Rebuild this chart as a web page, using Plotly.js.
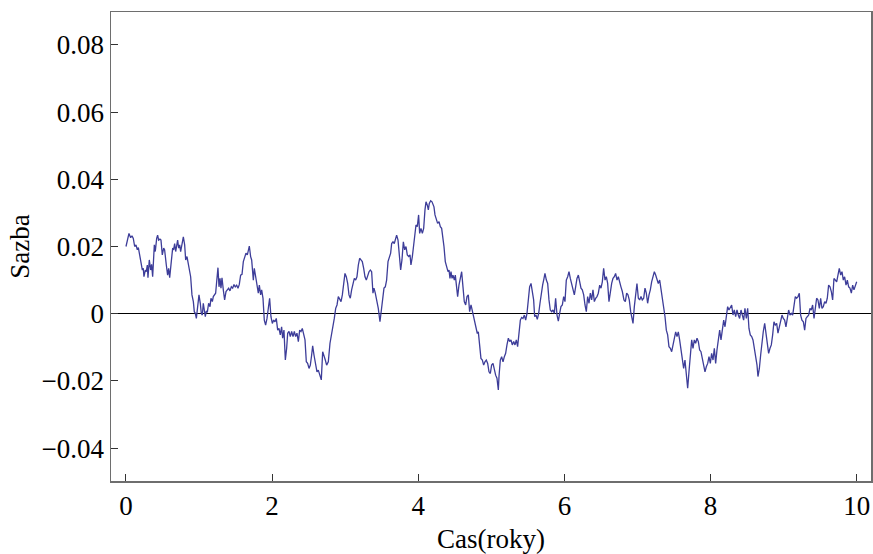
<!DOCTYPE html>
<html>
<head>
<meta charset="utf-8">
<script src="https://cdn.plot.ly/plotly-3.0.1.min.js"></script>
<style>
  html, body { margin: 0; padding: 0; background: #ffffff; }
  #chart { width: 873px; height: 554px; }
</style>
</head>
<body>
<div id="chart"></div>
<script>
// Simulated short-rate path: time in years and the rate level
const years = [
  0.000, 0.041, 0.064, 0.082, 0.100, 0.119, 0.137, 0.155, 0.169, 0.182,
  0.210, 0.224, 0.237, 0.246, 0.265, 0.278, 0.292, 0.301, 0.319, 0.338,
  0.351, 0.365, 0.388, 0.401, 0.420, 0.433, 0.447, 0.465, 0.479, 0.497,
  0.516, 0.529, 0.552, 0.570, 0.584, 0.598, 0.620, 0.639, 0.652, 0.666,
  0.680, 0.693, 0.707, 0.721, 0.735, 0.748, 0.766, 0.785, 0.803, 0.817,
  0.835, 0.858, 0.885, 0.903, 0.922, 0.935, 0.949, 0.963, 0.981, 0.999,
  1.017, 1.031, 1.045, 1.058, 1.072, 1.086, 1.099, 1.113, 1.131, 1.150,
  1.163, 1.182, 1.195, 1.214, 1.227, 1.241, 1.259, 1.273, 1.287, 1.300,
  1.314, 1.332, 1.350, 1.369, 1.387, 1.405, 1.423, 1.442, 1.460, 1.478,
  1.496, 1.515, 1.533, 1.551, 1.569, 1.588, 1.606, 1.624, 1.642, 1.661,
  1.679, 1.688,
  1.706, 1.720, 1.743, 1.756, 1.775, 1.793, 1.811, 1.825, 1.843, 1.857,
  1.875, 1.893, 1.911, 1.930, 1.948, 1.966, 1.984, 2.003, 2.021, 2.039,
  2.057, 2.076, 2.094, 2.112, 2.130, 2.144, 2.162, 2.181, 2.199, 2.213,
  2.231, 2.249, 2.267, 2.286, 2.304, 2.322, 2.340, 2.359, 2.377, 2.395,
  2.413, 2.432, 2.450, 2.468, 2.486, 2.505, 2.523, 2.541, 2.555, 2.573,
  2.596, 2.614, 2.632, 2.650, 2.673, 2.692, 2.710, 2.728, 2.746, 2.769,
  2.792, 2.815, 2.833, 2.851, 2.870, 2.888, 2.906, 2.924, 2.943, 2.961,
  2.979, 2.997, 3.015, 3.034, 3.052, 3.070, 3.088, 3.107, 3.125, 3.143,
  3.161, 3.180, 3.198, 3.216, 3.234, 3.253, 3.271, 3.289, 3.307, 3.326,
  3.344,
  3.362, 3.380, 3.394, 3.412, 3.431, 3.453, 3.476, 3.494, 3.513, 3.531,
  3.549, 3.567, 3.586, 3.604, 3.622, 3.636, 3.654, 3.672, 3.691, 3.704,
  3.723, 3.741, 3.759, 3.777, 3.796, 3.814, 3.832, 3.850, 3.869, 3.887,
  3.900, 3.919, 3.937, 3.951, 3.969, 3.987, 4.005, 4.019, 4.037, 4.056,
  4.074, 4.092, 4.106, 4.124, 4.138, 4.151, 4.170, 4.188, 4.202, 4.215,
  4.229, 4.247, 4.265, 4.284, 4.302, 4.320, 4.338, 4.352, 4.370, 4.389,
  4.407, 4.421, 4.434, 4.448, 4.462, 4.475, 4.494, 4.507, 4.521, 4.539,
  4.557, 4.576, 4.594, 4.612, 4.630, 4.649, 4.667, 4.685, 4.703, 4.722,
  4.740, 4.758, 4.776, 4.790, 4.808, 4.822, 4.840, 4.858, 4.877, 4.895,
  4.913, 4.931, 4.950, 4.968, 4.986, 5.004, 5.023, 5.041, 5.059, 5.077,
  5.096,
  5.105, 5.123, 5.141, 5.160, 5.178, 5.196, 5.214, 5.233, 5.251, 5.269,
  5.287, 5.306, 5.324, 5.342, 5.360, 5.379, 5.397, 5.415, 5.433, 5.452,
  5.470, 5.488, 5.506, 5.524, 5.543, 5.561, 5.579, 5.593, 5.611, 5.629,
  5.648, 5.666, 5.684, 5.702, 5.721, 5.734, 5.753, 5.771, 5.789, 5.807,
  5.826, 5.844, 5.862, 5.880, 5.899, 5.917, 5.935, 5.953, 5.972, 5.990,
  6.008, 6.026, 6.045, 6.063, 6.081, 6.099, 6.118, 6.136, 6.154, 6.172,
  6.191, 6.209, 6.227, 6.245, 6.264, 6.282, 6.300, 6.318, 6.337, 6.355,
  6.373, 6.391, 6.410, 6.428, 6.446, 6.464, 6.483, 6.501, 6.519, 6.537,
  6.556, 6.574, 6.592, 6.610, 6.629, 6.647, 6.665, 6.683, 6.701, 6.720,
  6.738, 6.756, 6.774, 6.793,
  6.815, 6.834, 6.852, 6.870, 6.888, 6.907, 6.925, 6.939, 6.957, 6.975,
  6.993, 7.012, 7.030, 7.048, 7.066, 7.085, 7.103, 7.121, 7.139, 7.158,
  7.176, 7.194, 7.212, 7.231, 7.249, 7.267, 7.285, 7.304, 7.322, 7.340,
  7.358, 7.377, 7.395, 7.413, 7.431, 7.450, 7.468, 7.486, 7.504, 7.523,
  7.541, 7.559, 7.577, 7.596, 7.614, 7.632, 7.650, 7.669, 7.687, 7.705,
  7.723, 7.742, 7.760, 7.778, 7.796, 7.815, 7.833, 7.851, 7.869, 7.888,
  7.906, 7.924, 7.942, 7.961, 7.979, 7.997, 8.015, 8.034, 8.052, 8.070,
  8.088, 8.107, 8.125, 8.143, 8.161, 8.180, 8.198, 8.216, 8.234, 8.252,
  8.271, 8.289, 8.307, 8.325, 8.344, 8.362, 8.380, 8.398, 8.417, 8.435,
  8.453, 8.471, 8.490, 8.508,
  8.526, 8.544, 8.563, 8.581, 8.599, 8.617, 8.636, 8.649, 8.668, 8.686,
  8.704, 8.722, 8.741, 8.759, 8.777, 8.795, 8.814, 8.832, 8.850, 8.868,
  8.886, 8.905, 8.923, 8.941, 8.959, 8.978, 8.996, 9.014, 9.032, 9.051,
  9.069, 9.087, 9.105, 9.124, 9.142, 9.160, 9.178, 9.197, 9.215, 9.233,
  9.251, 9.270, 9.288, 9.306, 9.324, 9.343, 9.361, 9.379, 9.397, 9.416,
  9.434, 9.452, 9.470, 9.489, 9.507, 9.525, 9.543, 9.562, 9.580, 9.598,
  9.616, 9.635, 9.653, 9.671, 9.689, 9.708, 9.726, 9.744, 9.762, 9.781,
  9.799, 9.817, 9.835, 9.854, 9.872, 9.890, 9.908, 9.927, 9.945, 9.963,
  9.981, 10.000
];

const rate = [
  0.0200, 0.0239, 0.0226, 0.0232, 0.0224, 0.0200, 0.0205, 0.0190, 0.0197, 0.0180,
  0.0155, 0.0130, 0.0135, 0.0110, 0.0130, 0.0125, 0.0145, 0.0107, 0.0160, 0.0130,
  0.0147, 0.0110, 0.0205, 0.0185, 0.0224, 0.0234, 0.0219, 0.0222, 0.0219, 0.0175,
  0.0195, 0.0190, 0.0145, 0.0115, 0.0135, 0.0107, 0.0155, 0.0195, 0.0190, 0.0209,
  0.0185, 0.0205, 0.0219, 0.0195, 0.0205, 0.0185, 0.0209, 0.0229, 0.0205, 0.0160,
  0.0170, 0.0140, 0.0110, 0.0056, 0.0036, 0.0006, 0.0001, -0.0014, 0.0021, 0.0056,
  0.0031, 0.0001, -0.0004, 0.0031, 0.0011, -0.0009, 0.0008, 0.0004, 0.0031, 0.0021,
  0.0046, 0.0036, 0.0051, 0.0056, 0.0061, 0.0095, 0.0137, 0.0080, 0.0105, 0.0076,
  0.0107, 0.0071, 0.0041, 0.0066, 0.0071, 0.0076, 0.0068, 0.0080, 0.0076, 0.0087,
  0.0080, 0.0085, 0.0076, 0.0087, 0.0115, 0.0117, 0.0155, 0.0167, 0.0180, 0.0175,
  0.0195, 0.0201,
  0.0170, 0.0160, 0.0100, 0.0135, 0.0110, 0.0090, 0.0061, 0.0085, 0.0056, 0.0071,
  0.0046, -0.0019, -0.0034, -0.0014, 0.0026, 0.0046, -0.0009, -0.0029, -0.0019, -0.0024,
  -0.0014, -0.0049, -0.0044, -0.0063, -0.0039, -0.0073, -0.0049, -0.0138, -0.0103, -0.0058,
  -0.0053, -0.0068, -0.0053, -0.0068, -0.0053, -0.0068, -0.0058, -0.0083, -0.0049, -0.0053,
  -0.0044, -0.0068, -0.0078, -0.0143, -0.0148, -0.0163, -0.0153, -0.0123, -0.0096, -0.0123,
  -0.0158, -0.0173, -0.0168, -0.0183, -0.0197, -0.0113, -0.0123, -0.0138, -0.0153, -0.0143,
  -0.0088, -0.0063, -0.0044, -0.0014, 0.0016, 0.0026, 0.0051, 0.0041, 0.0036, 0.0056,
  0.0100, 0.0120, 0.0110, 0.0090, 0.0056, 0.0046, 0.0071, 0.0085, 0.0105, 0.0100,
  0.0110, 0.0145, 0.0165, 0.0160, 0.0155, 0.0135, 0.0110, 0.0100, 0.0115, 0.0125,
  0.0130,
  0.0125, 0.0061, 0.0076, 0.0061, 0.0041, 0.0016, -0.0024, 0.0011, 0.0051, 0.0076,
  0.0080, 0.0100, 0.0155, 0.0170, 0.0180, 0.0209, 0.0214, 0.0209, 0.0229, 0.0234,
  0.0219, 0.0165, 0.0130, 0.0160, 0.0214, 0.0190, 0.0200, 0.0175, 0.0170, 0.0175,
  0.0145, 0.0170, 0.0204, 0.0249, 0.0264, 0.0259, 0.0294, 0.0239, 0.0254, 0.0239,
  0.0254, 0.0309, 0.0333, 0.0323, 0.0309, 0.0328, 0.0336, 0.0333, 0.0323, 0.0318,
  0.0294, 0.0284, 0.0269, 0.0274, 0.0259, 0.0254, 0.0229, 0.0200, 0.0155, 0.0135,
  0.0125, 0.0130, 0.0105, 0.0125, 0.0105, 0.0115, 0.0100, 0.0115, 0.0080, 0.0051,
  0.0085, 0.0110, 0.0125, 0.0080, 0.0036, 0.0026, 0.0051, 0.0056, 0.0006, 0.0026,
  0.0006, -0.0004, -0.0024, -0.0049, -0.0059, -0.0054, -0.0103, -0.0133, -0.0138, -0.0153,
  -0.0143, -0.0138, -0.0148, -0.0173, -0.0178, -0.0153, -0.0148, -0.0168, -0.0183, -0.0192,
  -0.0227,
  -0.0187, -0.0138, -0.0128, -0.0143, -0.0128, -0.0118, -0.0093, -0.0073, -0.0083, -0.0078,
  -0.0093, -0.0083, -0.0093, -0.0078, -0.0098, -0.0049, -0.0019, -0.0011, -0.0014, -0.0004,
  -0.0019, 0.0001, 0.0036, 0.0080, 0.0090, 0.0061, 0.0041, -0.0009, -0.0004, -0.0017,
  0.0001, 0.0031, 0.0066, 0.0085, 0.0105, 0.0120, 0.0100, 0.0090, 0.0041, 0.0011,
  0.0006, 0.0011, 0.0001, 0.0046, -0.0004, -0.0022, 0.0001, 0.0021, 0.0026, 0.0051,
  0.0036, 0.0100, 0.0110, 0.0125, 0.0105, 0.0090, 0.0076, 0.0056, 0.0080, 0.0105,
  0.0115, 0.0090, 0.0076, 0.0071, 0.0056, 0.0026, 0.0006, 0.0051, 0.0031, 0.0061,
  0.0041, 0.0071, 0.0036, 0.0046, 0.0051, 0.0061, 0.0085, 0.0076, 0.0095, 0.0135,
  0.0100, 0.0110, 0.0090, 0.0036, 0.0066, 0.0090, 0.0105, 0.0110, 0.0120, 0.0100,
  0.0110, 0.0090, 0.0080, 0.0066,
  0.0041, 0.0036, 0.0061, 0.0056, 0.0041, 0.0006, -0.0019, -0.0029, 0.0021, 0.0051,
  0.0090, 0.0046, 0.0041, 0.0051, 0.0041, 0.0046, 0.0076, 0.0061, 0.0031, 0.0056,
  0.0071, 0.0095, 0.0115, 0.0125, 0.0115, 0.0105, 0.0090, 0.0100, 0.0076, 0.0041,
  0.0026, -0.0009, -0.0049, -0.0063, -0.0098, -0.0103, -0.0113, -0.0093, -0.0078, -0.0054,
  -0.0068, -0.0054, -0.0078, -0.0103, -0.0138, -0.0163, -0.0138, -0.0197, -0.0222, -0.0173,
  -0.0123, -0.0078, -0.0103, -0.0078, -0.0088, -0.0073, -0.0083, -0.0108, -0.0113, -0.0133,
  -0.0148, -0.0173, -0.0158, -0.0148, -0.0128, -0.0148, -0.0118, -0.0138, -0.0103, -0.0148,
  -0.0108, -0.0083, -0.0049, -0.0078, -0.0054, -0.0019, -0.0039, -0.0014, 0.0021, 0.0011,
  0.0021, 0.0026, -0.0004, 0.0011, -0.0009, 0.0011, -0.0004, -0.0014, 0.0011, -0.0004,
  -0.0019, 0.0016, -0.0014, 0.0016,
  -0.0044, -0.0063, -0.0068, -0.0078, -0.0103, -0.0123, -0.0153, -0.0187, -0.0163, -0.0123,
  -0.0083, -0.0053, -0.0029, -0.0063, -0.0083, -0.0118, -0.0103, -0.0093, -0.0063, -0.0024,
  -0.0034, -0.0029, -0.0058, -0.0039, -0.0019, -0.0004, -0.0014, -0.0019, -0.0039, -0.0004,
  0.0011, -0.0004, 0.0001, -0.0004, 0.0026, 0.0051, 0.0046, 0.0051, 0.0061, -0.0004,
  -0.0019, -0.0024, -0.0049, -0.0014, -0.0009, -0.0004, 0.0016, 0.0011, 0.0026, -0.0014,
  0.0016, 0.0046, 0.0041, 0.0016, 0.0046, 0.0016, 0.0021, 0.0036, 0.0031, 0.0046,
  0.0085, 0.0080, 0.0066, 0.0041, 0.0105, 0.0100, 0.0095, 0.0115, 0.0135, 0.0115,
  0.0125, 0.0100, 0.0110, 0.0085, 0.0100, 0.0080, 0.0076, 0.0061, 0.0085, 0.0071,
  0.0080, 0.0095
];

// Axis ticks and labels
const xTickVals = [0, 2, 4, 6, 8, 10];
const yTickVals = [-0.04, -0.02, 0, 0.02, 0.04, 0.06, 0.08];
const yTickText = ['\u22120.04', '\u22120.02', '0', '0.02', '0.04', '0.06', '0.08'];
const xLabel = 'Cas(roky)';
const yLabel = 'Sazba';

const serif = '"Liberation Serif", "Times New Roman", Times, serif';
const frameColor = '#6e6e6e';
const textFont = { family: serif, size: 27, color: '#000000' };

const trace = {
  x: years,
  y: rate,
  type: 'scatter',
  mode: 'lines',
  line: { color: 'rgb(61,61,153)', width: 1.3 },
  hoverinfo: 'x+y'
};

const layout = {
  width: 873,
  height: 554,
  margin: { l: 111, r: 2, t: 12, b: 73 },
  paper_bgcolor: '#ffffff',
  plot_bgcolor: '#ffffff',
  showlegend: false,
  font: textFont,
  xaxis: {
    range: [-0.205, 10.196],
    tickmode: 'array',
    tickvals: xTickVals,
    ticks: 'inside',
    ticklen: 7,
    tickwidth: 1,
    tickcolor: '#333333',
    showline: true,
    mirror: true,
    linecolor: frameColor,
    linewidth: 1.5,
    showgrid: false,
    zeroline: false,
    tickfont: textFont,
    title: { text: xLabel, font: textFont, standoff: 15 },
    automargin: false
  },
  yaxis: {
    range: [-0.0498, 0.0898],
    tickmode: 'array',
    tickvals: yTickVals,
    ticktext: yTickText,
    ticks: 'inside',
    ticklen: 7,
    tickwidth: 1,
    tickcolor: '#333333',
    showline: true,
    mirror: true,
    linecolor: frameColor,
    linewidth: 1.5,
    showgrid: false,
    zeroline: true,
    zerolinecolor: '#000000',
    zerolinewidth: 1,
    tickfont: textFont,
    title: { text: yLabel, font: textFont, standoff: 4 },
    automargin: false
  }
};

Plotly.newPlot('chart', [trace], layout, { displayModeBar: false, staticPlot: true });
</script>
</body>
</html>
